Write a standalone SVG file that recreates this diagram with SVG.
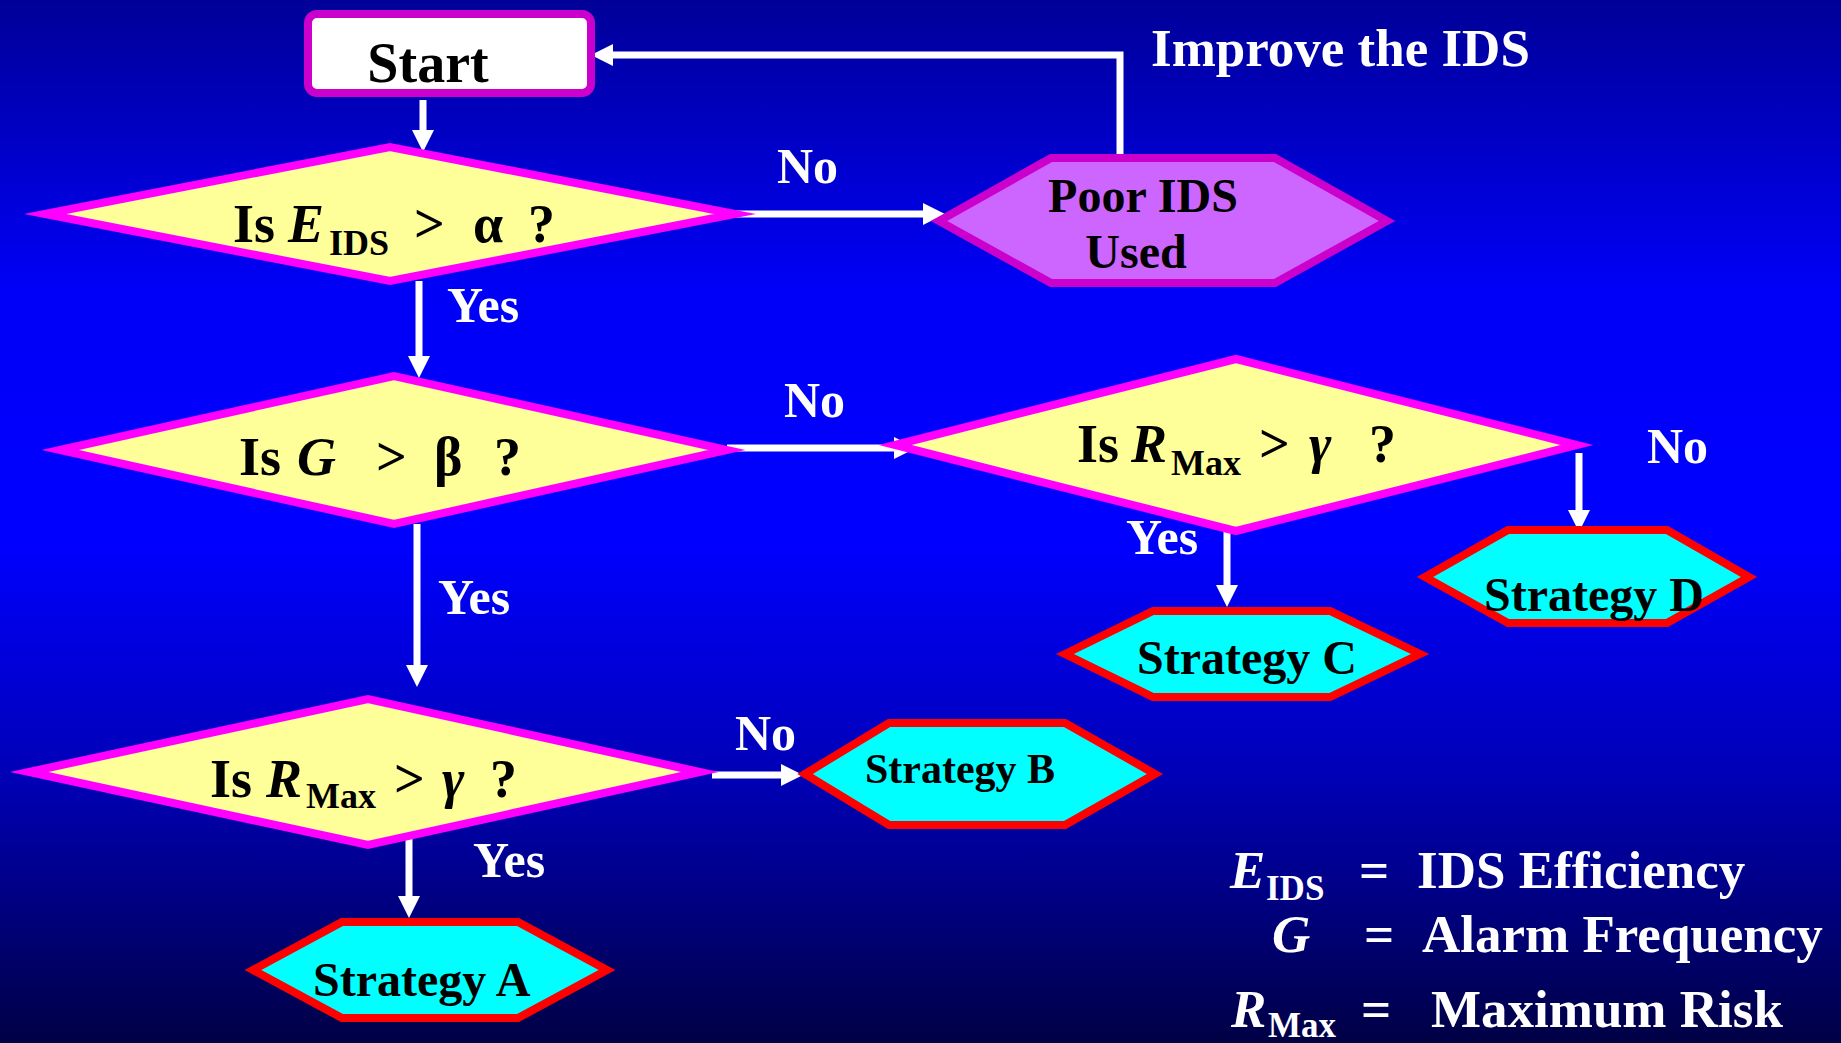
<svg xmlns="http://www.w3.org/2000/svg" width="1841" height="1043" viewBox="0 0 1841 1043">
  <defs>
    <linearGradient id="bg" x1="0" y1="0" x2="0" y2="1">
      <stop offset="0" stop-color="#000098"/>
      <stop offset="0.28" stop-color="#0000f8"/>
      <stop offset="0.52" stop-color="#0000ff"/>
      <stop offset="0.75" stop-color="#0000b4"/>
      <stop offset="1" stop-color="#000045"/>
    </linearGradient>
    <marker id="arrow" markerUnits="userSpaceOnUse" markerWidth="24" markerHeight="24" refX="1" refY="11" orient="auto">
      <path d="M0,0 L22,11 L0,22 Z" fill="#ffffff"/>
    </marker>
    <style>
      text { font-family: "Liberation Serif", "Times New Roman", serif; font-weight: bold; }
      .conn { fill: none; stroke: #ffffff; stroke-width: 7; marker-end: url(#arrow); }
      .decision { fill: #ffff99; stroke: #ff00ff; stroke-width: 8; stroke-linejoin: miter; stroke-miterlimit: 12; }
      .strategy { fill: #00ffff; stroke: #ff0000; stroke-width: 8; stroke-linejoin: miter; stroke-miterlimit: 12; }
      .poor { fill: #cc66ff; stroke: #cc00cc; stroke-width: 8; stroke-linejoin: miter; stroke-miterlimit: 12; }
      .dark { fill: #000000; }
      .q { font-size: 54px; }
      .sub { font-size: 36px; }
      .it { font-style: italic; }
      .lbl { font-size: 50px; fill: #ffffff; }
      .strat { font-size: 48px; fill: #000000; }
      .legend { font-size: 53px; fill: #ffffff; }
    </style>
  </defs>

  <rect x="0" y="0" width="1841" height="1043" fill="url(#bg)"/>

  <!-- connectors -->
  <g id="connectors">
    <path class="conn" d="M423,100 V131"/>
    <path class="conn" d="M735,214 H924"/>
    <path class="conn" d="M1120,158 V55 H612"/>
    <path class="conn" d="M419,281 V357"/>
    <path class="conn" d="M727,448 H895"/>
    <path class="conn" d="M417,524 V666"/>
    <path class="conn" d="M1579,453 V511"/>
    <path class="conn" d="M1227,531 V586"/>
    <path class="conn" d="M712,775 H782"/>
    <path class="conn" d="M409,837 V897"/>
  </g>

  <!-- branch labels -->
  <g id="edge-labels">
    <text class="lbl" x="777" y="183">No</text>
    <text class="lbl" x="447" y="322">Yes</text>
    <text class="lbl" x="784" y="417">No</text>
    <text class="lbl" x="438" y="614">Yes</text>
    <text class="lbl" x="1647" y="463">No</text>
    <text class="lbl" x="1126" y="554">Yes</text>
    <text class="lbl" x="735" y="750">No</text>
    <text class="lbl" x="473" y="877">Yes</text>
    <text class="lbl" x="1151" y="66" style="font-size:53px">Improve the IDS</text>
  </g>

  <!-- start -->
  <g id="start">
    <rect x="308" y="14" width="283" height="79" rx="9" fill="#ffffff" stroke="#cc00cc" stroke-width="8"/>
    <text class="dark" x="428" y="82" text-anchor="middle" style="font-size:56px">Start</text>
  </g>

  <!-- decision: IDS efficiency -->
  <g id="check-eids">
    <polygon class="decision" points="45,214 390,147 735,214 390,281"/>
    <text class="dark q" y="242"><tspan x="233">Is</tspan><tspan class="it" x="288">E</tspan><tspan class="sub" x="329" y="255">IDS</tspan><tspan x="414" y="242">&gt;</tspan><tspan x="473">α</tspan><tspan x="528">?</tspan></text>
  </g>

  <!-- poor IDS -->
  <g id="poor-ids">
    <polygon class="poor" points="939,221 1051,158 1275,158 1387,221 1275,283 1051,283"/>
    <text class="dark" x="1143" y="212" text-anchor="middle" style="font-size:48px">Poor IDS</text>
    <text class="dark" x="1136" y="268" text-anchor="middle" style="font-size:48px">Used</text>
  </g>

  <!-- decision: alarm frequency -->
  <g id="check-g">
    <polygon class="decision" points="60,450 394,376 727,450 394,524"/>
    <text class="dark q" y="475"><tspan x="239">Is</tspan><tspan class="it" x="297">G</tspan><tspan x="376">&gt;</tspan><tspan x="434">β</tspan><tspan x="494">?</tspan></text>
  </g>

  <!-- decision: max risk (right branch) -->
  <g id="check-rmax-right">
    <polygon class="decision" points="895,445 1236,359 1577,445 1236,531"/>
    <text class="dark q" y="462"><tspan x="1077">Is</tspan><tspan class="it" x="1131">R</tspan><tspan class="sub" x="1171" y="475">Max</tspan><tspan x="1259" y="462">&gt;</tspan><tspan class="it" x="1309">γ</tspan><tspan x="1369">?</tspan></text>
  </g>

  <!-- decision: max risk (left branch) -->
  <g id="check-rmax-left">
    <polygon class="decision" points="29,772 368,699 700,772 368,845"/>
    <text class="dark q" y="797"><tspan x="210">Is</tspan><tspan class="it" x="266">R</tspan><tspan class="sub" x="306" y="808">Max</tspan><tspan x="394" y="797">&gt;</tspan><tspan class="it" x="442">γ</tspan><tspan x="490">?</tspan></text>
  </g>

  <!-- strategies -->
  <g id="strategy-a">
    <polygon class="strategy" points="253,970 342,922 518,922 607,970 518,1018 342,1018"/>
    <text class="strat" x="313" y="996">Strategy A</text>
  </g>
  <g id="strategy-b">
    <polygon class="strategy" points="805,774 889,723 1065,723 1155,774 1065,825 889,825"/>
    <text class="strat" x="865" y="783" style="font-size:42px">Strategy B</text>
  </g>
  <g id="strategy-c">
    <polygon class="strategy" points="1065,654 1153,611 1330,611 1420,654 1330,697 1153,697"/>
    <text class="strat" x="1137" y="674">Strategy C</text>
  </g>
  <g id="strategy-d">
    <polygon class="strategy" points="1425,577 1508,530 1667,530 1749,577 1667,623 1508,623"/>
    <text class="strat" x="1484" y="611">Strategy D</text>
  </g>

  <!-- legend -->
  <g id="legend">
    <text class="legend" y="888"><tspan class="it" x="1230">E</tspan><tspan style="font-size:35px" x="1266" y="900">IDS</tspan><tspan x="1359" y="888">=</tspan><tspan x="1417">IDS Efficiency</tspan></text>
    <text class="legend" y="952"><tspan class="it" x="1272">G</tspan><tspan x="1364">=</tspan><tspan x="1422">Alarm Frequency</tspan></text>
    <text class="legend" y="1027"><tspan class="it" x="1231">R</tspan><tspan style="font-size:35px" x="1268" y="1037">Max</tspan><tspan x="1361" y="1027">=</tspan><tspan x="1431">Maximum Risk</tspan></text>
  </g>
</svg>
